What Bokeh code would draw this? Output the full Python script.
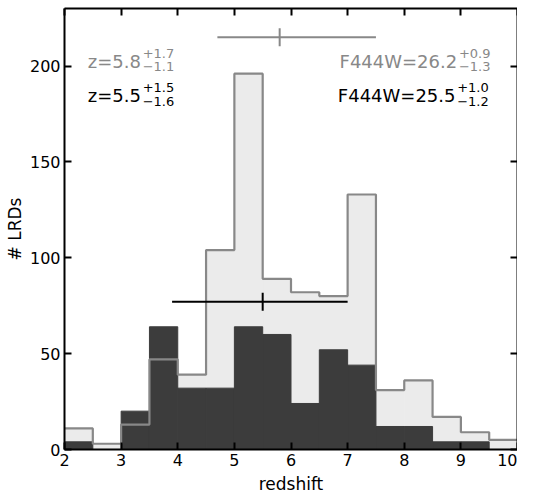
import numpy as np
from bokeh.plotting import figure
from bokeh.models import Range1d, LinearAxis, FixedTicker, CustomJSTickFormatter, Label
from bokeh.embed import file_html
from bokeh.resources import INLINE

# ---- data ----
bin_edges = [2.0, 2.5, 3.0, 3.5, 4.0, 4.5, 5.0, 5.5, 6.0, 6.5, 7.0, 7.5, 8.0, 8.5, 9.0, 9.5, 10.0]
counts_all = [11, 3, 13, 47, 39, 104, 196, 89, 82, 80, 133, 31, 36, 17, 9, 5]
counts_sub = [4, 0, 20, 64, 32, 32, 64, 60, 24, 52, 44, 12, 12, 4, 4, 0]

# median redshift with errors, and the height where each error bar is drawn
z_med = [5.8, 5.5]
z_minus = [1.1, 1.6]
z_plus = [1.7, 1.5]
errbar_y = [215, 77]
f_med = [26.2, 25.5]
f_plus = [0.9, 1.0]
f_minus = [1.3, 1.2]
x_ticks = [2, 3, 4, 5, 6, 7, 8, 9, 10]
y_ticks = [0, 50, 100, 150, 200]

GRAY = "#888888"
LIGHT = "#ebebeb"
DARK = "#3c3c3c"
FONT = "DejaVu Sans"

p = figure(frame_width=453, frame_height=441, output_backend="svg", toolbar_location=None,
           x_range=Range1d(2, 10), y_range=Range1d(0, 230),
           min_border_left=64, min_border_right=0, min_border_top=8, min_border_bottom=0)
p.grid.visible = False
p.outline_line_color = None
p.background_fill_color = "white"

left = bin_edges[:-1]
right = bin_edges[1:]
p.quad(left=left, right=right, bottom=0, top=counts_all, fill_color=LIGHT, line_color=LIGHT, line_width=1)
p.quad(left=left, right=right, bottom=0, top=counts_sub, fill_color=DARK, line_color=DARK, line_width=1)
p.step(x=bin_edges, y=counts_all + [counts_all[-1]], mode="after", line_color=GRAY, line_width=2.2)

# error bars
cols = [GRAY, "black"]
for i in range(2):
    p.segment(x0=[z_med[i] - z_minus[i]], x1=[z_med[i] + z_plus[i]], y0=[errbar_y[i]], y1=[errbar_y[i]],
              line_color=cols[i], line_width=2)
    p.scatter(x=[z_med[i]], y=[errbar_y[i]], marker="dash", angle=np.pi / 2, size=18,
              line_color=cols[i], line_width=2)

xa = p.xaxis[0]
ya = p.yaxis[0]
for ax in (xa, ya):
    ax.axis_line_width = 2
    ax.axis_line_color = "black"
    ax.major_tick_line_width = 2
    ax.major_tick_line_color = "black"
    ax.major_tick_in = 7
    ax.major_tick_out = 0
    ax.minor_tick_line_color = None
    ax.major_label_text_font = FONT
    ax.major_label_text_font_size = "16px"
    ax.major_label_text_color = "black"
    ax.axis_label_text_font = FONT
    ax.axis_label_text_font_size = "17px"
    ax.axis_label_text_font_style = "normal"
    ax.axis_label_text_color = "black"
xa.ticker = FixedTicker(ticks=x_ticks)
ya.ticker = FixedTicker(ticks=y_ticks)
xa.axis_label = "redshift"
ya.axis_label = "# LRDs"
xa.major_label_standoff = 4
ya.major_label_standoff = 4
xa.axis_label_standoff = 5
ya.axis_label_standoff = 2

blank = CustomJSTickFormatter(code="return ''")
top = LinearAxis(ticker=FixedTicker(ticks=x_ticks), formatter=blank)
rgt = LinearAxis(ticker=FixedTicker(ticks=y_ticks), formatter=blank)
for ax in (top, rgt):
    ax.axis_line_width = 2
    ax.axis_line_color = "black"
    ax.major_tick_line_width = 2
    ax.major_tick_line_color = "black"
    ax.major_tick_in = 7
    ax.major_tick_out = 0
    ax.minor_tick_line_color = None
    ax.major_label_standoff = 0
    ax.major_label_text_font_size = "1px"
p.add_layout(top, "above")
p.add_layout(rgt, "right")

# annotations
def lab(x, y, text, color, size, align="left"):
    p.add_layout(Label(x=x, y=y, text=text, text_color=color, text_font=FONT,
                       text_font_size=size, text_align=align, text_baseline="alphabetic"))

fmt = lambda v: f"{v:.1f}"
lab(2.41, 202.4, f"z={fmt(z_med[0])}", GRAY, "18px")
lab(3.38, 206.6, f"+{fmt(z_plus[0])}", GRAY, "13px")
lab(3.38, 199.8, f"\u2212{fmt(z_minus[0])}", GRAY, "13px")
lab(2.41, 184.7, f"z={fmt(z_med[1])}", "black", "18px")
lab(3.38, 188.8, f"+{fmt(z_plus[1])}", "black", "13px")
lab(3.38, 181.7, f"\u2212{fmt(z_minus[1])}", "black", "13px")

lab(8.935, 202.4, f"F444W={fmt(f_med[0])}", GRAY, "18px", "right")
lab(8.965, 206.6, f"+{fmt(f_plus[0])}", GRAY, "13px")
lab(8.965, 199.8, f"\u2212{fmt(f_minus[0])}", GRAY, "13px")
lab(8.905, 184.7, f"F444W={fmt(f_med[1])}", "black", "18px", "right")
lab(8.935, 188.8, f"+{fmt(f_plus[1])}", "black", "13px")
lab(8.935, 181.7, f"\u2212{fmt(f_minus[1])}", "black", "13px")

open("out.html", "w").write(file_html(p, INLINE))
